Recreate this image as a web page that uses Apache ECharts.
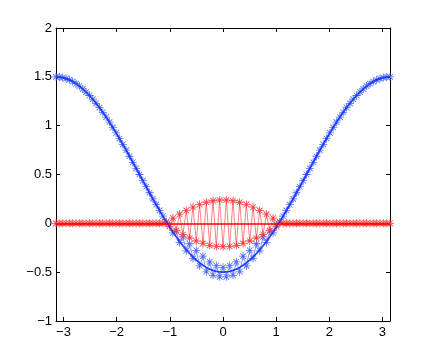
<!DOCTYPE html>
<html>
<head>
<meta charset="utf-8">
<script src="https://cdn.jsdelivr.net/npm/echarts@6/dist/echarts.min.js"></script>
<style>
  html, body { margin: 0; padding: 0; background: #fff; }
  #chart { width: 431px; height: 362px; }
</style>
</head>
<body>
<div id="chart"></div>
<script>
// sample points, -pi .. pi
var xs = [-3.1416,-3.079,-3.016,-2.953,-2.890,-2.827,-2.765,-2.702,-2.639,-2.576,
  -2.513,-2.450,-2.388,-2.325,-2.262,-2.199,-2.136,-2.073,-2.011,-1.948,
  -1.885,-1.822,-1.759,-1.696,-1.634,-1.571,-1.508,-1.445,-1.382,-1.319,
  -1.257,-1.194,-1.131,-1.068,-1.005,-0.942,-0.880,-0.817,-0.754,-0.691,
  -0.628,-0.565,-0.503,-0.440,-0.377,-0.314,-0.251,-0.188,-0.126,-0.063,
  0,
  0.063,0.126,0.188,0.251,0.314,0.377,0.440,0.503,0.565,0.628,
  0.691,0.754,0.817,0.880,0.942,1.005,1.068,1.131,1.194,1.257,
  1.319,1.382,1.445,1.508,1.571,1.634,1.696,1.759,1.822,1.885,
  1.948,2.011,2.073,2.136,2.199,2.262,2.325,2.388,2.450,2.513,
  2.576,2.639,2.702,2.765,2.827,2.890,2.953,3.016,3.079,3.1416];

// blue solid curve
var blueLine = [1.5,1.498,1.492,1.482,1.469,1.451,1.43,1.405,1.376,1.344,
  1.309,1.271,1.229,1.185,1.137,1.088,1.036,0.982,0.926,0.868,
  0.809,0.749,0.687,0.625,0.563,0.5,0.437,0.375,0.313,0.251,
  0.191,0.132,0.074,0.018,-0.036,-0.088,-0.137,-0.185,-0.229,-0.271,
  -0.309,-0.344,-0.376,-0.405,-0.43,-0.451,-0.469,-0.482,-0.492,-0.498,
  -0.5,
  -0.498,-0.492,-0.482,-0.469,-0.451,-0.43,-0.405,-0.376,-0.344,-0.309,
  -0.271,-0.229,-0.185,-0.137,-0.088,-0.036,0.018,0.074,0.132,0.191,
  0.251,0.313,0.375,0.437,0.5,0.563,0.625,0.687,0.749,0.809,
  0.868,0.926,0.982,1.036,1.088,1.137,1.185,1.229,1.271,1.309,
  1.344,1.376,1.405,1.43,1.451,1.469,1.482,1.492,1.498,1.5];

// blue asterisks
var blueStars = [1.5,1.498,1.492,1.482,1.469,1.451,1.43,1.405,1.376,1.344,
  1.309,1.271,1.229,1.185,1.137,1.088,1.036,0.982,0.926,0.868,
  0.809,0.749,0.687,0.625,0.563,0.5,0.437,0.375,0.313,0.251,
  0.191,0.132,0.074,0.013,-0.016,-0.098,-0.077,-0.195,-0.139,-0.281,
  -0.209,-0.359,-0.276,-0.435,-0.335,-0.496,-0.394,-0.532,-0.432,-0.548,
  -0.45,
  -0.548,-0.432,-0.532,-0.394,-0.496,-0.335,-0.435,-0.276,-0.359,-0.209,
  -0.281,-0.139,-0.195,-0.077,-0.098,-0.016,0.013,0.074,0.132,0.191,
  0.251,0.313,0.375,0.437,0.5,0.563,0.625,0.687,0.749,0.809,
  0.868,0.926,0.982,1.036,1.088,1.137,1.185,1.229,1.271,1.309,
  1.344,1.376,1.405,1.43,1.451,1.469,1.482,1.492,1.498,1.5];

// red asterisks
var redStars = [0,0,0,0,0,0,0,0,0,0,
  0,0,0,0,0,0,0,0,0,0,
  0,0,0,0,0,0,0,0,0,0,
  0,0,0,0.011,-0.032,0.054,-0.074,0.094,-0.114,0.132,
  -0.15,0.166,-0.181,0.194,-0.206,0.216,-0.225,0.231,-0.236,0.239,
  -0.24,
  0.239,-0.236,0.231,-0.225,0.216,-0.206,0.194,-0.181,0.166,-0.15,
  0.132,-0.114,0.094,-0.074,0.054,-0.032,0.011,0,0,0,
  0,0,0,0,0,0,0,0,0,0,
  0,0,0,0,0,0,0,0,0,0,
  0,0,0,0,0,0,0,0,0,0];

var xTicks = [-3, -2, -1, 0, 1, 2, 3];
var yTicks = [-1, -0.5, 0, 0.5, 1, 1.5, 2];

var asterisk = 'path://M9,0L11,0L11,20L9,20Z M0,9L20,9L20,11L0,11Z M2.3,3.7L3.7,2.3L17.7,16.3L16.3,17.7Z M16.3,2.3L17.7,3.7L3.7,17.7L2.3,16.3Z';

function pairs(ys) {
  return xs.map(function (x, i) { return [x, ys[i]]; });
}
function minus(v) {
  return String(v).replace('-', '\u2212');
}

var font = { color: '#000', fontSize: 13, fontFamily: 'Liberation Sans' };

function xAxisDef(pos, labels) {
  return {
    type: 'value', position: pos, min: -3.1416, max: 3.1416,
    axisLine: { show: true, onZero: false, lineStyle: { color: '#000', width: 1 } },
    axisTick: { show: true, inside: true, length: 4, customValues: xTicks, lineStyle: { color: '#000' } },
    axisLabel: Object.assign({ show: labels, customValues: xTicks, margin: 5, formatter: minus }, font),
    splitLine: { show: false }
  };
}
function yAxisDef(pos, labels) {
  return {
    type: 'value', position: pos, min: -1, max: 2,
    axisLine: { show: true, onZero: false, lineStyle: { color: '#000', width: 1 } },
    axisTick: { show: true, inside: true, length: 4, customValues: yTicks, lineStyle: { color: '#000' } },
    axisLabel: Object.assign({ show: labels, customValues: yTicks, margin: 4, formatter: minus }, font),
    splitLine: { show: false }
  };
}

var chart = echarts.init(document.getElementById('chart'), null, { renderer: 'canvas' });
chart.setOption({
  backgroundColor: '#fff',
  animation: false,
  grid: { left: 56, right: 41, top: 28, bottom: 41 },
  xAxis: [xAxisDef('bottom', true), xAxisDef('top', false)],
  yAxis: [yAxisDef('left', true), yAxisDef('right', false)],
  series: [
    {
      name: 'blue stars', type: 'line', data: pairs(blueStars),
      symbol: asterisk, symbolSize: 8, showAllSymbol: true, clip: false,
      itemStyle: { color: '#4a6aff' },
      lineStyle: { color: 'rgba(70,100,255,0.75)', width: 0.9 },
      emphasis: { disabled: true }, z: 2
    },
    {
      name: 'red stars', type: 'line', data: pairs(redStars),
      symbol: asterisk, symbolSize: 8, showAllSymbol: true, clip: false,
      itemStyle: { color: '#ff3a3a' },
      lineStyle: { color: 'rgba(255,70,70,0.75)', width: 0.9 },
      emphasis: { disabled: true }, z: 3,
      markLine: {
        silent: true, symbol: 'none', label: { show: false },
        lineStyle: { color: '#ff0000', width: 1.6, type: 'solid' },
        data: [{ yAxis: 0 }]
      }
    },
    {
      name: 'blue line', type: 'line', data: pairs(blueLine),
      symbol: 'none', smooth: false,
      lineStyle: { color: '#1f3cff', width: 1.7 },
      emphasis: { disabled: true }, z: 4
    }
  ]
});
</script>
</body>
</html>
